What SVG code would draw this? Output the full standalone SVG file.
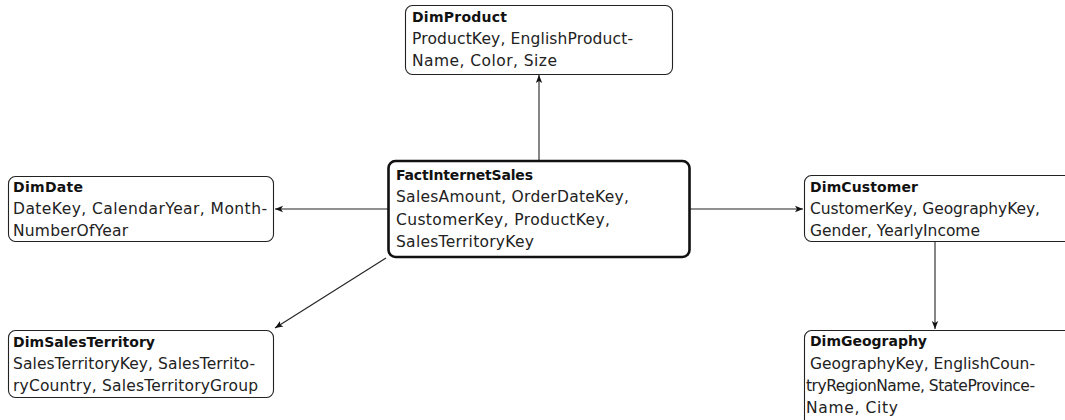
<svg xmlns="http://www.w3.org/2000/svg" width="1065" height="420" viewBox="0 0 1065 420">
<style>
.box{fill:#fff;stroke:#222;stroke-width:1.1}
.main{fill:#fff;stroke:#111;stroke-width:2.6}
text{font-family:"DejaVu Sans","Liberation Sans",sans-serif;font-size:15.5px;fill:#222}
.t{font-weight:bold;font-size:14px;fill:#111}
.c{stroke:#222;stroke-width:1.1;fill:none;marker-end:url(#ah)}
</style>
<defs>
<marker id="ah" viewBox="0 0 10 10" refX="10" refY="5" markerWidth="8" markerHeight="8" markerUnits="userSpaceOnUse" orient="auto">
<path d="M0,1 L10,5 L0,9 L2.5,5 Z" fill="#111"/>
</marker>
</defs>
<g id="connectors">
<line class="c" x1="539" y1="160" x2="539" y2="75"/>
<line class="c" x1="388" y1="209" x2="275" y2="209"/>
<line class="c" x1="690" y1="209" x2="803" y2="209"/>
<line class="c" x1="935" y1="242" x2="935" y2="329"/>
<line class="c" x1="386" y1="258" x2="275" y2="328"/>
</g>
<g id="DimProduct">
<rect class="box" x="405.5" y="5.5" width="267" height="69" rx="7"/>
<text x="412" y="22" class="t" textLength="95">DimProduct</text>
<text x="412" y="44" textLength="221">ProductKey, EnglishProduct-</text>
<text x="412" y="66" textLength="145">Name, Color, Size</text>
</g>
<g id="DimDate">
<rect class="box" x="8.5" y="176.5" width="265" height="65" rx="7"/>
<text x="13" y="192" class="t" textLength="70">DimDate</text>
<text x="13" y="214" textLength="254">DateKey, CalendarYear, Month-</text>
<text x="13" y="236" textLength="115">NumberOfYear</text>
</g>
<g id="FactInternetSales">
<rect class="main" x="388.5" y="161" width="301" height="96" rx="7"/>
<text x="396" y="180" class="t" textLength="137">FactInternetSales</text>
<text x="396" y="202" textLength="233">SalesAmount, OrderDateKey,</text>
<text x="396" y="225" textLength="214">CustomerKey, ProductKey,</text>
<text x="396" y="247" textLength="138">SalesTerritoryKey</text>
</g>
<g id="DimCustomer">
<rect class="box" x="804.5" y="175.5" width="270" height="66" rx="7"/>
<text x="810" y="192" class="t" textLength="108">DimCustomer</text>
<text x="810" y="214" textLength="230">CustomerKey, GeographyKey,</text>
<text x="810" y="236" textLength="170">Gender, YearlyIncome</text>
</g>
<g id="DimSalesTerritory">
<rect class="box" x="8.5" y="330.5" width="265" height="67" rx="7"/>
<text x="13" y="347" class="t" textLength="142">DimSalesTerritory</text>
<text x="13" y="369" textLength="242">SalesTerritoryKey, SalesTerrito-</text>
<text x="13" y="391" textLength="245">ryCountry, SalesTerritoryGroup</text>
</g>
<g id="DimGeography">
<rect class="box" x="804.5" y="330.5" width="270" height="100" rx="7"/>
<text x="810" y="346" class="t" textLength="117">DimGeography</text>
<text x="810" y="369" textLength="225">GeographyKey, EnglishCoun-</text>
<text x="806" y="391" textLength="229">tryRegionName, StateProvince-</text>
<text x="806" y="413" textLength="92">Name, City</text>
</g>
</svg>
